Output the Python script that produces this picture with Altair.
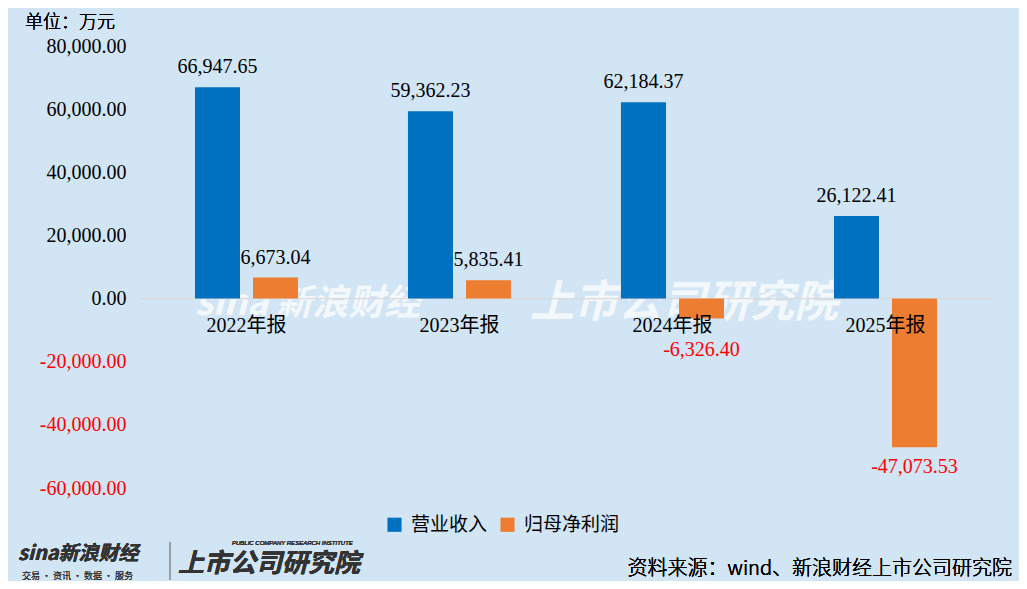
import pandas as pd
import altair as alt

years = ["2022年报", "2023年报", "2024年报", "2025年报"]
revenue = [66947.65, 59362.23, 62184.37, 26122.41]
profit = [6673.04, 5835.41, -6326.40, -47073.53]
series = ["营业收入", "归母净利润"]
colors = ["#0070C0", "#ED7D31"]

NUM_FONT = "Liberation Serif, Noto Sans CJK SC"
CJK_FONT = "Noto Sans CJK SC"
FMT = "replace(format(datum.value, ',.2f'), '\u2212', '-')"

df = pd.DataFrame({
    "year": years * 2,
    "series": [series[0]] * 4 + [series[1]] * 4,
    "value": revenue + profit,
})
cats = pd.DataFrame({"year": years})

x_enc = alt.X("year:N", axis=None, sort=years,
              scale=alt.Scale(paddingInner=0.516, paddingOuter=0.258))
xo_enc = alt.XOffset("series:N", sort=series, scale=alt.Scale(paddingInner=0.224))
y_enc = alt.Y("value:Q", title=None,
              scale=alt.Scale(domain=[-60000, 80000], nice=False),
              axis=alt.Axis(values=[-60000, -40000, -20000, 0, 20000, 40000, 60000, 80000],
                            labelExpr=FMT, grid=False, domain=False, ticks=False,
                            labelPadding=14, labelFont=NUM_FONT, labelFontSize=20,
                            labelFontWeight="normal",
                            labelColor=alt.expr("datum.value < 0 ? '#FF0000' : '#000000'")))

base = alt.Chart(df).transform_calculate(label=FMT)

zero = alt.Chart(cats).mark_rule(color="#D9D9D9", strokeWidth=1).encode(y=alt.datum(0))

bars = base.mark_bar().encode(
    x=x_enc, xOffset=xo_enc, y=y_enc,
    color=alt.Color("series:N", sort=series,
                    scale=alt.Scale(domain=series, range=colors),
                    legend=alt.Legend(title=None, orient="none", legendX=245, legendY=469,
                                      direction="horizontal", symbolType="square",
                                      symbolSize=200, symbolStrokeWidth=0,
                                      labelFont=CJK_FONT, labelFontSize=19,
                                      labelFontWeight="normal",
                                      labelColor="#000000", columnPadding=10,
                                      labelOffset=7)),
)


def value_labels(cond, dy, color):
    return base.transform_filter(cond).mark_text(
        dy=dy, font=NUM_FONT, fontSize=20, fontWeight="normal", color=color, baseline="middle"
    ).encode(x=x_enc, xOffset=xo_enc, y="value:Q", text="label:N")


lab_pos = value_labels("datum.value >= 0", -20, "#000000")
lab_neg = value_labels("datum.value < -10000", 20, "#FF0000")
lab_neg_small = value_labels("datum.value < 0 && datum.value >= -10000", 31, "#FF0000")

cat_labels = alt.Chart(cats).mark_text(
    dy=27, font=NUM_FONT, fontSize=20, fontWeight="normal", color="#000000", baseline="middle"
).encode(x=x_enc, y=alt.datum(0), text="year:N")


def free_text(txt, x, y, size, color="#000000", align="left", weight=300,
              style="normal", font=CJK_FONT, opacity=1.0):
    return alt.Chart(cats).mark_text(
        text=txt, font=font, fontSize=size, fontWeight=weight, fontStyle=style,
        color=color, opacity=opacity, align=align, baseline="middle"
    ).encode(x=alt.value(x), y=alt.value(y))


# watermark
wm1 = free_text("sina 新浪财经", 55, 258, 36, "#FFFFFF", weight="bold", style="italic", opacity=0.3)
wm2 = free_text("上市公司研究院", 390, 258, 44, "#FFFFFF", weight="bold", style="italic", opacity=0.3)

unit = free_text("单位：万元", -115, -23, 18)
source = free_text("资料来源：wind、新浪财经上市公司研究院", 872, 523, 20, align="right")

# bottom-left logos
logo1 = free_text("sina新浪财经", -122, 508, 20, "#333333", weight="bold", style="italic")
logo1b = free_text("交易 · 资讯 · 数据 · 服务", -118, 530, 9, "#333333")
logo_sep = alt.Chart(cats).mark_rule(color="#999999").encode(
    x=alt.value(30), y=alt.value(496), y2=alt.value(534))
logo2 = free_text("上市公司研究院", 38, 518, 26, "#333333", weight="bold", style="italic")
logo2b = free_text("PUBLIC COMPANY RESEARCH INSTITUTE", 92, 497, 6, "#333333",
                   style="italic", font="Liberation Sans")

chart = alt.layer(
    wm1, wm2, zero, bars, lab_pos, lab_neg, lab_neg_small, cat_labels,
    unit, source, logo1, logo1b, logo_sep, logo2, logo2b
).properties(
    width=852, height=442,
    autosize=alt.AutoSizeParams(type="none"),
    padding={"left": 132, "top": 38, "right": 27, "bottom": 93},
    background="#D2E5F5",
).configure_view(stroke=None)

chart.save("out.html", embed_options={"renderer": "svg", "actions": False})
